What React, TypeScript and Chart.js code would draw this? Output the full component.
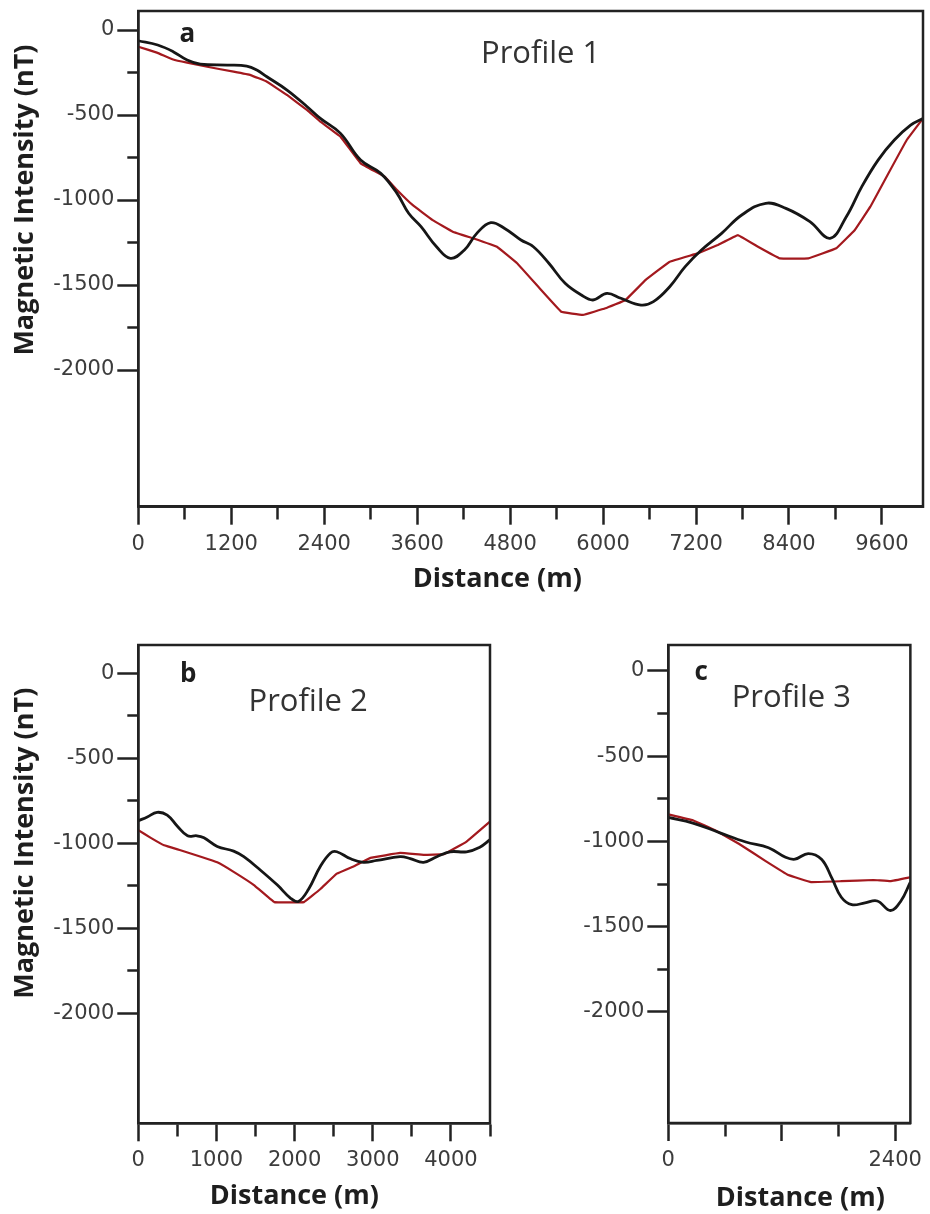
import { useEffect, useRef } from "react";
import { Chart, registerables } from "chart.js";

Chart.register(...registerables);

// ---------------- Data ----------------
// Profile 1 (panel a)
const p1ObsDist = [0, 250, 450, 630, 800, 1150, 1400, 1530, 1660, 1920, 2180, 2350, 2610, 2870, 3130, 3340, 3490, 3650, 3850, 4030, 4210, 4370, 4550, 4730, 4940, 5100, 5300, 5510, 5720, 5870, 6050, 6230, 6490, 6650, 6860, 7060, 7270, 7530, 7790, 8100, 8360, 8670, 8930, 9140, 9340, 9550, 9760, 9970, 10130];
const p1ObsVal = [-63, -88, -127, -176, -200, -206, -212, -235, -275, -353, -451, -520, -608, -765, -843, -961, -1078, -1157, -1275, -1343, -1294, -1196, -1133, -1167, -1235, -1275, -1372, -1490, -1559, -1588, -1549, -1578, -1618, -1598, -1510, -1392, -1294, -1196, -1088, -1019, -1049, -1127, -1225, -1098, -921, -765, -647, -559, -520];
const p1CalcDist = [0, 240, 450, 630, 890, 1230, 1450, 1660, 1920, 2180, 2350, 2610, 2870, 3180, 3340, 3540, 3800, 4060, 4320, 4630, 4890, 5200, 5460, 5740, 6030, 6290, 6550, 6860, 7220, 7480, 7740, 8000, 8280, 8650, 9010, 9250, 9450, 9660, 9920, 10130];
const p1CalcVal = [-98, -133, -173, -192, -216, -245, -265, -304, -382, -471, -539, -627, -784, -863, -941, -1029, -1118, -1186, -1225, -1275, -1372, -1529, -1657, -1676, -1637, -1588, -1470, -1363, -1314, -1265, -1206, -1275, -1343, -1343, -1284, -1176, -1039, -863, -647, -520];

// Profile 2 (panel b)
const p2ObsDist = [0, 115, 240, 370, 500, 630, 750, 840, 1010, 1220, 1350, 1560, 1780, 1950, 2050, 2180, 2330, 2460, 2540, 2710, 2880, 3050, 3350, 3480, 3650, 3820, 3990, 4200, 4370, 4500];
const p2ObsVal = [-868, -845, -818, -834, -900, -956, -956, -968, -1019, -1046, -1079, -1157, -1246, -1324, -1342, -1269, -1135, -1057, -1050, -1090, -1112, -1101, -1079, -1090, -1112, -1079, -1050, -1050, -1023, -979];
const p2CalcDist = [0, 160, 330, 540, 800, 1010, 1220, 1480, 1740, 2120, 2330, 2540, 2760, 2970, 3350, 3650, 3910, 4200, 4500];
const p2CalcVal = [-923, -968, -1012, -1041, -1079, -1112, -1168, -1246, -1346, -1346, -1269, -1179, -1135, -1086, -1057, -1068, -1064, -990, -872];

// Profile 3 (panel c)
const p3ObsDist = [0, 260, 540, 820, 1060, 1240, 1340, 1480, 1620, 1730, 1830, 1940, 2080, 2210, 2350, 2460, 2560];
const p3ObsVal = [-859, -892, -948, -1003, -1037, -1093, -1104, -1071, -1104, -1215, -1327, -1371, -1360, -1349, -1405, -1349, -1238];
const p3CalcDist = [0, 260, 500, 750, 1030, 1270, 1510, 1830, 2170, 2350, 2560];
const p3CalcVal = [-841, -876, -936, -1015, -1115, -1197, -1238, -1233, -1226, -1233, -1210];

// Ticks
const yMajorTicks = [0, -500, -1000, -1500, -2000];
const yMinorTicks = [-250, -750, -1250, -1750];

const p1XMajorTicks = [0, 1200, 2400, 3600, 4800, 6000, 7200, 8400, 9600];
const p1XMinorTicks = [600, 1800, 3000, 4200, 5400, 6600, 7800, 9000];
const p1XLabeled = [0, 1200, 2400, 3600, 4800, 6000, 7200, 8400, 9600];

const p2XMajorTicks = [0, 1000, 2000, 3000, 4000];
const p2XMinorTicks = [500, 1500, 2500, 3500, 4500];
const p2XLabeled = [0, 1000, 2000, 3000, 4000];

const p3XMajorTicks = [0, 1200, 2400];
const p3XMinorTicks = [600, 1800];
const p3XLabeled = [0, 2400];

const yTitleText = "Magnetic Intensity (nT)";
const xTitleText = "Distance (m)";

// ---------------- Styles / layout ----------------
const AXIS_COLOR = "#222";
const TICK_FONT = { family: "DejaVu Sans", size: 21 };
const TICK_COLOR = "#3c3c3c";

const decorPlugin = {
  id: "panelDecor",
  afterDraw(chart: any, _args: any, opts: any) {
    const { ctx, chartArea: a } = chart;
    ctx.save();
    ctx.lineWidth = 2.5;
    ctx.strokeStyle = AXIS_COLOR;
    ctx.strokeRect(a.left, a.top, a.right - a.left, a.bottom - a.top);

    ctx.textAlign = "center";
    ctx.textBaseline = "alphabetic";
    ctx.fillStyle = "#1e1e1e";
    ctx.font = 'bold 26px "Open Sans"';
    ctx.fillText(opts.letter, a.left + opts.letterDx, a.top + opts.letterDy);

    ctx.fillStyle = "#333";
    ctx.font = '31px "Open Sans"';
    ctx.fillText(opts.title, (a.left + a.right) / 2 + opts.titleDx, a.top + opts.titleDy);

    ctx.fillStyle = "#1e1e1e";
    ctx.font = 'bold 27px "Open Sans"';
    ctx.textBaseline = "middle";
    ctx.fillText(xTitleText, a.left + opts.xTitleDx, a.bottom + opts.xTitleDy);

    if (opts.showYTitle) {
      const yc = chart.scales.y.getPixelForValue(-1000);
      ctx.translate(opts.yTitleX, yc);
      ctx.rotate(-Math.PI / 2);
      ctx.fillText(yTitleText, 0, 0);
    }
    ctx.restore();
  },
};

type Spec = {
  left: number; top: number; w: number; h: number;
  yWidth: number; padTop: number; padRight: number; xHeight: number;
  xMax: number; yMin: number; yMax: number;
  obsX: number[]; obsY: number[]; calcX: number[]; calcY: number[];
  xMajor: number[]; xMinor: number[]; xLabeled: number[];
  decor: any;
};

const zip = (xs: number[], ys: number[]) => xs.map((x, i) => ({ x, y: ys[i] }));

function buildConfig(s: Spec): any {
  const xTicks = [...s.xMajor, ...s.xMinor].sort((p, q) => p - q);
  const yTicks = [...yMajorTicks, ...yMinorTicks].sort((p, q) => p - q);
  return {
    type: "line",
    data: {
      datasets: [
        {
          data: zip(s.obsX, s.obsY),
          borderColor: "#161616",
          borderWidth: 2.8,
          tension: 0.4,
          pointRadius: 0,
          fill: false,
        },
        {
          data: zip(s.calcX, s.calcY),
          borderColor: "#a3191e",
          borderWidth: 2.2,
          tension: 0.05,
          pointRadius: 0,
          fill: false,
        },
      ],
    },
    plugins: [decorPlugin],
    options: {
      responsive: false,
      animation: false,
      devicePixelRatio: 1,
      events: [],
      layout: { padding: { left: 0, top: s.padTop, right: s.padRight, bottom: 0 } },
      plugins: {
        legend: { display: false },
        tooltip: { enabled: false },
        panelDecor: s.decor,
      },
      scales: {
        x: {
          type: "linear",
          min: 0,
          max: s.xMax,
          afterFit: (sc: any) => { sc.height = s.xHeight; },
          afterBuildTicks: (sc: any) => { sc.ticks = xTicks.map((v) => ({ value: v })); },
          ticks: {
            autoSkip: false,
            maxRotation: 0,
            padding: 7,
            font: TICK_FONT,
            color: TICK_COLOR,
            callback: (v: number) => (s.xLabeled.includes(v) ? String(v) : ""),
          },
          grid: {
            drawOnChartArea: false,
            drawTicks: true,
            tickLength: 18,
            tickWidth: 2.5,
            tickColor: AXIS_COLOR,
            tickBorderDash: (c: any) => (c.tick && s.xMinor.includes(c.tick.value) ? [12, 100] : []),
          },
          border: { display: true, color: AXIS_COLOR, width: 2.5 },
        },
        y: {
          type: "linear",
          min: s.yMin,
          max: s.yMax,
          afterFit: (sc: any) => { sc.width = s.yWidth; },
          afterBuildTicks: (sc: any) => { sc.ticks = yTicks.map((v) => ({ value: v })); },
          ticks: {
            autoSkip: false,
            padding: 3,
            font: TICK_FONT,
            color: TICK_COLOR,
            callback: (v: number) => (yMajorTicks.includes(v) ? String(v) : ""),
          },
          grid: {
            drawOnChartArea: false,
            drawTicks: true,
            tickLength: 21,
            tickWidth: 2.5,
            tickColor: AXIS_COLOR,
            tickBorderDash: (c: any) => (c.tick && yMinorTicks.includes(c.tick.value) ? [0, 10, 12, 100] : []),
          },
          border: { display: true, color: AXIS_COLOR, width: 2.5 },
        },
      },
    },
  };
}

const specA: Spec = {
  left: 0, top: -30, w: 930, h: 630,
  yWidth: 138.3, padTop: 41, padRight: 7, xHeight: 93.3,
  xMax: 10130, yMin: -2804, yMax: 112,
  obsX: p1ObsDist, obsY: p1ObsVal, calcX: p1CalcDist, calcY: p1CalcVal,
  xMajor: p1XMajorTicks, xMinor: p1XMinorTicks, xLabeled: p1XLabeled,
  decor: { letter: "a", letterDx: 49, letterDy: 31, title: "Profile 1", titleDx: 10, titleDy: 52, xTitleDx: 359, xTitleDy: 73, showYTitle: true, yTitleX: 25 },
};

const specB: Spec = {
  left: 0, top: 600, w: 540, h: 614,
  yWidth: 138.3, padTop: 45, padRight: 50, xHeight: 90.7,
  xMax: 4500, yMin: -2647, yMax: 166,
  obsX: p2ObsDist, obsY: p2ObsVal, calcX: p2CalcDist, calcY: p2CalcVal,
  xMajor: p2XMajorTicks, xMinor: p2XMinorTicks, xLabeled: p2XLabeled,
  decor: { letter: "b", letterDx: 50, letterDy: 37, title: "Profile 2", titleDx: -6, titleDy: 66, xTitleDx: 156, xTitleDy: 73, showYTitle: true, yTitleX: 25 },
};

const specC: Spec = {
  left: 540, top: 600, w: 390, h: 614,
  yWidth: 128.3, padTop: 45, padRight: 16.7, xHeight: 91,
  xMax: 2560, yMin: -2651, yMax: 152,
  obsX: p3ObsDist, obsY: p3ObsVal, calcX: p3CalcDist, calcY: p3CalcVal,
  xMajor: p3XMajorTicks, xMinor: p3XMinorTicks, xLabeled: p3XLabeled,
  decor: { letter: "c", letterDx: 33, letterDy: 35, title: "Profile 3", titleDx: 2, titleDy: 62, xTitleDx: 132, xTitleDy: 75, showYTitle: false, yTitleX: 0 },
};

function ProfileChart({ spec }: { spec: Spec }) {
  const ref = useRef<HTMLCanvasElement>(null);
  useEffect(() => {
    const chart = new Chart(ref.current as HTMLCanvasElement, buildConfig(spec));
    return () => chart.destroy();
  }, [spec]);
  return (
    <canvas
      ref={ref}
      width={spec.w}
      height={spec.h}
      style={{ position: "absolute", left: spec.left, top: spec.top, width: spec.w, height: spec.h }}
    />
  );
}

export default function App() {
  return (
    <div
      style={{
        position: "absolute",
        left: 0,
        top: 0,
        width: 930,
        height: 1214,
        overflow: "hidden",
        background: "#fff",
      }}
    >
      <ProfileChart spec={specA} />
      <ProfileChart spec={specB} />
      <ProfileChart spec={specC} />
    </div>
  );
}
